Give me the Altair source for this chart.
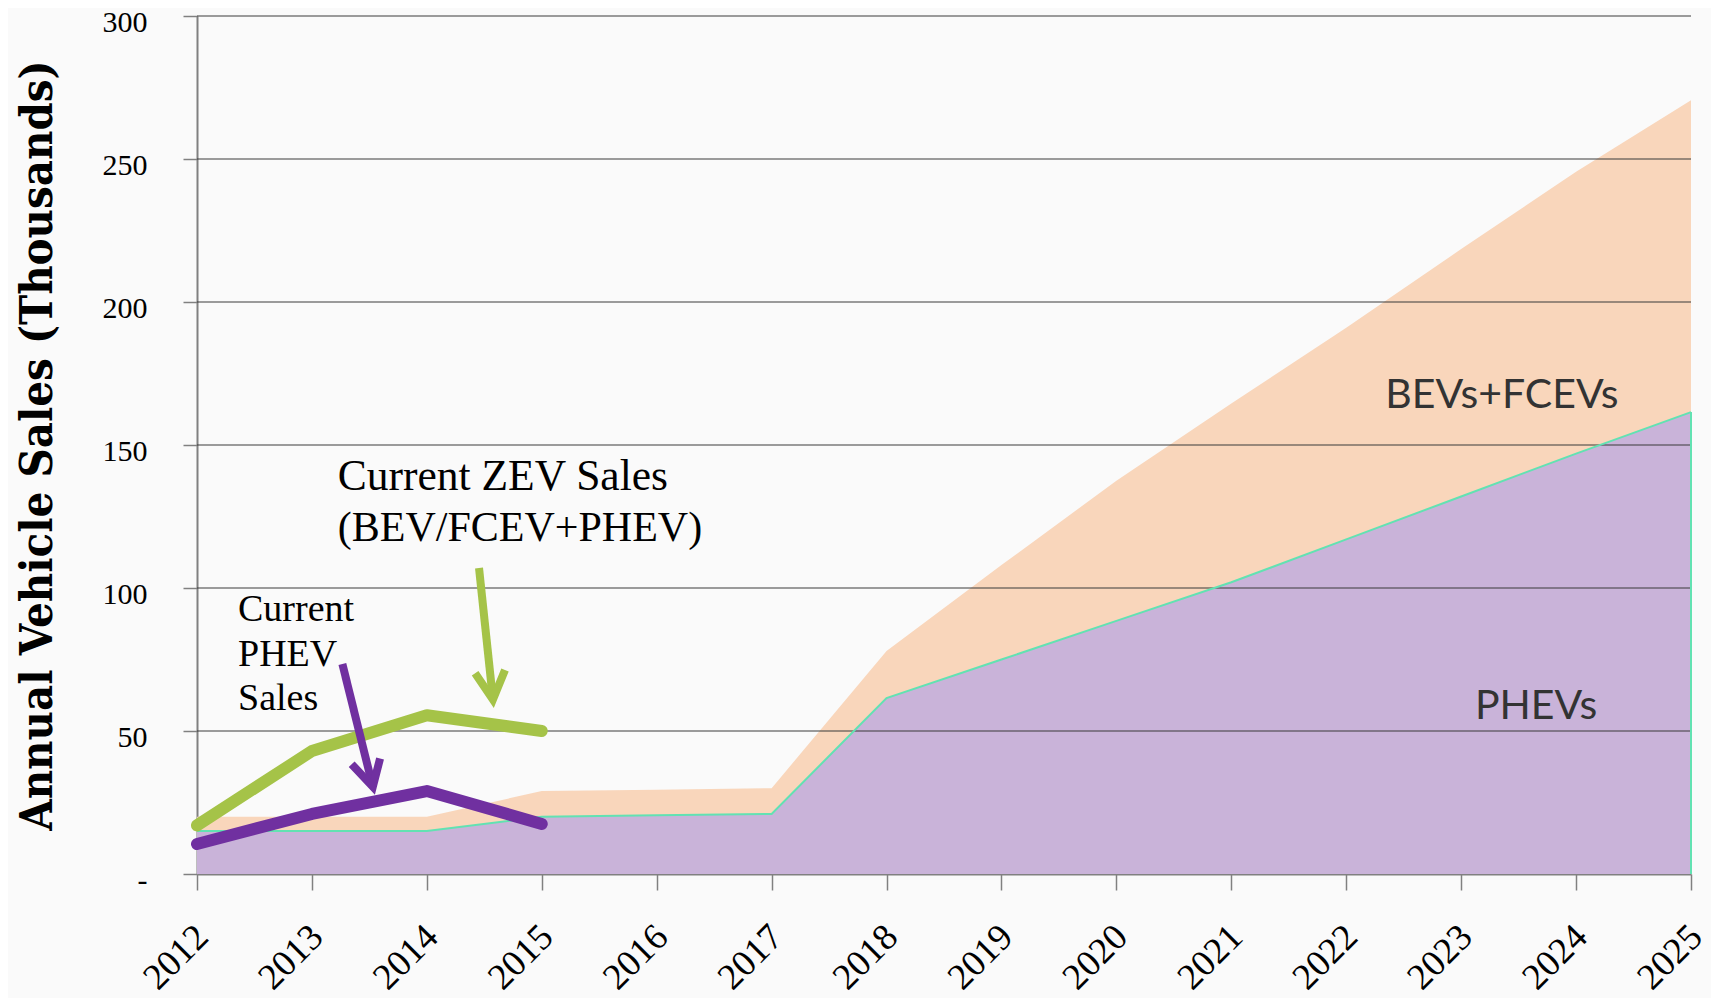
import altair as alt
import pandas as pd

# ---- data ----
years = list(range(2012, 2026))
phev_sales = [15, 15, 15, 20, 20.5, 21, 61.5, 75, 88.5, 102, 117, 132, 147, 161.5]
bev_fcev_sales = [5, 5, 5, 9, 9, 9, 16.5, 33, 49, 62.5, 74, 86.5, 98.5, 109]

current_years = [2012, 2013, 2014, 2015]
current_zev_sales = [17, 43, 55.5, 50]
current_phev_sales = [10.5, 21, 29, 17.5]

y_ticks = [0, 50, 100, 150, 200, 250, 300]
grid_values = [50, 100, 150, 200, 250, 300]

# annotation arrows (year, value) in data space
zev_arrow_year = [2014.454, 2014.575, 2014.42, 2014.575, 2014.68]
zev_arrow_val = [107.0, 61.0, 70.2, 61.0, 71.3]
phev_arrow_year = [2013.265, 2013.530, 2013.346, 2013.530, 2013.593]
phev_arrow_val = [73.4, 30.5, 38.4, 30.5, 40.4]
arrow_part = ["shaft", "shaft", "head", "head", "head"]
arrow_order = [0, 1, 0, 1, 2]

# annotation labels
serif_labels = ["Current ZEV Sales", "(BEV/FCEV+PHEV)", "Current", "PHEV", "Sales"]
serif_label_year = [2013.225, 2013.225, 2012.357, 2012.357, 2012.357]
serif_label_val = [134.4, 116.5, 88.3, 72.6, 57.2]
serif_label_size = [43.5, 42, 38, 38, 38]
sans_labels = ["BEVs+FCEVs", "PHEVs"]
sans_label_year = [2022.34, 2023.12]
sans_label_val = [162.8, 54.1]

# ---- tables ----
df = pd.DataFrame({
    "year": years,
    "phev": phev_sales,
    "bev": bev_fcev_sales,
})
df["top"] = df["phev"] + df["bev"]
df["zero"] = 0

cur = pd.DataFrame({"year": current_years, "zev": current_zev_sales, "phev": current_phev_sales})
grid = pd.DataFrame({"v": grid_values})
zev_arrow = pd.DataFrame({"year": zev_arrow_year, "val": zev_arrow_val, "part": arrow_part, "o": arrow_order})
phev_arrow = pd.DataFrame({"year": phev_arrow_year, "val": phev_arrow_val, "part": arrow_part, "o": arrow_order})
serif_df = pd.DataFrame({"t": serif_labels, "year": serif_label_year, "val": serif_label_val, "s": serif_label_size})
sans_df = pd.DataFrame({"t": sans_labels, "year": sans_label_year, "val": sans_label_val})

xscale = alt.Scale(domain=[2012, 2025], nice=False, zero=False)
yscale = alt.Scale(domain=[0, 300], nice=False)

x_axis = alt.Axis(
    values=years, format="d", title=None, grid=False,
    labelAngle=315, labelAlign="right", labelBaseline="middle",
    labelFont="Liberation Serif", labelFontSize=37, labelColor="black",
    labelPadding=41, labelOffset=5, tickSize=16, tickColor="#808080", tickWidth=1.5,
    domainColor="#808080", domainWidth=2, labelOverlap=False,
)
y_axis = alt.Axis(
    values=y_ticks, title="Annual Vehicle Sales (Thousands)", grid=False,
    labelExpr="datum.value == 0 ? '-\u00a0\u00a0\u00a0' : datum.label",
    labelFont="Liberation Serif", labelFontSize=30, labelColor="black",
    labelPadding=36, labelOffset=6, tickSize=14, tickColor="#808080", tickWidth=1.5,
    domainColor="#808080", domainWidth=2,
    titleFont="DejaVu Serif Condensed, Liberation Serif", titleFontSize=45, titleFontWeight="bold",
    titleColor="black", titleX=-146, titleY=429, titleAngle=270,
    titleAlign="center", titleBaseline="alphabetic",
)

X = alt.X("year:Q", scale=xscale, axis=x_axis)

purple_area = alt.Chart(df).mark_area(color="#c9b3d9").encode(
    x=X, y=alt.Y("phev:Q", scale=yscale, axis=y_axis)
)
peach_area = alt.Chart(df).mark_area(color="#f9d6bb").encode(
    x=alt.X("year:Q", scale=xscale), y=alt.Y("phev:Q", scale=yscale), y2="top:Q"
)
grid_rules = alt.Chart(grid).mark_rule(color="#3a3a3a", opacity=0.5, strokeWidth=2).encode(
    y=alt.Y("v:Q", scale=yscale)
)
mint_line = alt.Chart(df).mark_line(color="#62e2b2", strokeWidth=2).encode(
    x=alt.X("year:Q", scale=xscale), y=alt.Y("phev:Q", scale=yscale)
)
mint_edge = alt.Chart(df.tail(1)).mark_rule(color="#62e2b2", strokeWidth=2).encode(
    x=alt.X("year:Q", scale=xscale), y=alt.Y("zero:Q", scale=yscale), y2="phev:Q"
)
zev_line = alt.Chart(cur).mark_line(color="#a5c348", strokeWidth=12, strokeCap="round", strokeJoin="round").encode(
    x=alt.X("year:Q", scale=xscale), y=alt.Y("zev:Q", scale=yscale)
)
phev_line = alt.Chart(cur).mark_line(color="#7030a0", strokeWidth=12, strokeCap="round", strokeJoin="round").encode(
    x=alt.X("year:Q", scale=xscale), y=alt.Y("phev:Q", scale=yscale)
)
zev_arr = alt.Chart(zev_arrow).mark_line(color="#a5c348", strokeWidth=8, strokeJoin="miter").encode(
    x=alt.X("year:Q", scale=xscale), y=alt.Y("val:Q", scale=yscale), detail="part:N", order="o:Q"
)
phev_arr = alt.Chart(phev_arrow).mark_line(color="#7030a0", strokeWidth=8, strokeJoin="miter").encode(
    x=alt.X("year:Q", scale=xscale), y=alt.Y("val:Q", scale=yscale), detail="part:N", order="o:Q"
)
serif_text = alt.Chart(serif_df).mark_text(
    align="left", baseline="alphabetic", font="Liberation Serif", color="black"
).encode(
    x=alt.X("year:Q", scale=xscale), y=alt.Y("val:Q", scale=yscale), text="t:N",
    size=alt.Size("s:Q", scale=None, legend=None),
)
sans_text = alt.Chart(sans_df).mark_text(
    align="left", baseline="alphabetic", font="Lato", fontSize=41, color="#333333"
).encode(
    x=alt.X("year:Q", scale=xscale), y=alt.Y("val:Q", scale=yscale), text="t:N"
)

chart = alt.layer(
    purple_area, peach_area, grid_rules, mint_line, mint_edge,
    zev_line, phev_line, zev_arr, phev_arr, serif_text, sans_text,
).properties(
    width=1494, height=858,
    autosize=alt.AutoSizeParams(type="none"),
    padding={"left": 189, "top": 8, "right": 20, "bottom": 124},
    background="#fafafa",
).configure_view(stroke=None)

chart.save("out.html", embed_options={"renderer": "svg", "actions": False})
